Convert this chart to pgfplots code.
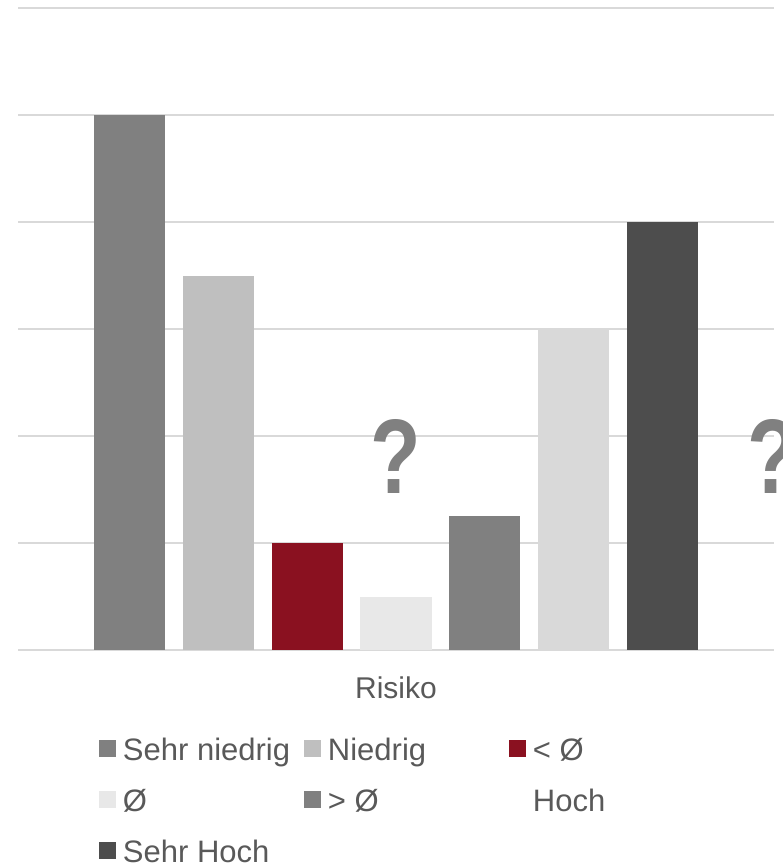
\documentclass[border=0pt]{standalone}
\usepackage{fontspec}
\setmainfont{Liberation Sans}
\usepackage{pgfplots}
\pgfplotsset{compat=1.18}

\definecolor{cSehrNiedrig}{HTML}{808080}
\definecolor{cNiedrig}{HTML}{BFBFBF}
\definecolor{cUnter}{HTML}{8A1120}
\definecolor{cMittel}{HTML}{E8E8E8}
\definecolor{cUeber}{HTML}{808080}
\definecolor{cHoch}{HTML}{D9D9D9}
\definecolor{cSehrHoch}{HTML}{4D4D4D}
\definecolor{gridc}{HTML}{D9D9D9}
\definecolor{txt}{HTML}{595959}
\definecolor{qmark}{HTML}{808080}

% fixed-width legend cells so that the three columns are evenly spaced
\newcommand\legcell[1]{\makebox[188pt][l]{\hspace{7pt}#1}}

\begin{document}
\begin{tikzpicture}
\useasboundingbox (-18pt,-215pt) rectangle (764pt,650pt);
\begin{axis}[
  scale only axis, width=756pt, height=642pt,
  at={(0pt,0pt)}, anchor=south west,
  xmin=-1.255, xmax=7.255, ymin=0, ymax=6,
  ybar, bar width=0.8, bar shift=0pt,
  axis line style={draw=none},
  ytick={0,1,...,6}, yticklabels={}, ymajorgrids,
  grid style={draw=gridc, line width=1.5pt},
  xtick={3}, xticklabels={Risiko}, major tick length=0pt,
  xticklabel style={anchor=base, yshift=-48pt, font=\fontsize{30pt}{36pt}\selectfont, text=txt},
  clip=false,
  legend columns=3,
  legend cell align=left,
  legend style={at={(0.1071,-0.1386)}, anchor=north west, draw=none, fill=none,
    inner sep=0pt, outer sep=0pt, column sep=0pt, row sep=22pt,
    font=\fontsize{31pt}{36pt}\selectfont, text=txt,
    nodes={inner sep=0pt, text height=22pt, text depth=7pt, anchor=base west}},
  legend image code/.code={\fill[#1, draw=none] (0pt,4pt) rectangle (17pt,21pt);},
]
\addplot[fill=cSehrNiedrig, draw=none] coordinates {(0,5)};
\addlegendentry{\legcell{Sehr niedrig}}
\addplot[fill=cNiedrig, draw=none] coordinates {(1,3.5)};
\addlegendentry{\legcell{Niedrig}}
\addplot[fill=cUnter, draw=none] coordinates {(2,1)};
\addlegendentry{\legcell{< Ø}}
\addplot[fill=cMittel, draw=none] coordinates {(3,0.5)};
\addlegendentry{\legcell{Ø}}
\addplot[fill=cUeber, draw=none] coordinates {(4,1.25)};
\addlegendentry{\legcell{> Ø}}
\addplot[fill=cHoch, draw=none, legend image code/.code={}] coordinates {(5,3)};
\addlegendentry{\legcell{Hoch}}
\addplot[fill=cSehrHoch, draw=none] coordinates {(6,4)};
\addlegendentry{\legcell{Sehr Hoch}}

\node[font=\fontsize{106pt}{110pt}\selectfont\bfseries, text=qmark, inner sep=0pt, xscale=0.78] at (axis cs:3,1.81) {?};
\node[font=\fontsize{106pt}{110pt}\selectfont\bfseries, text=qmark, inner sep=0pt, xscale=0.78] at (axis cs:7.24,1.81) {?};
\end{axis}
\end{tikzpicture}
\end{document}
